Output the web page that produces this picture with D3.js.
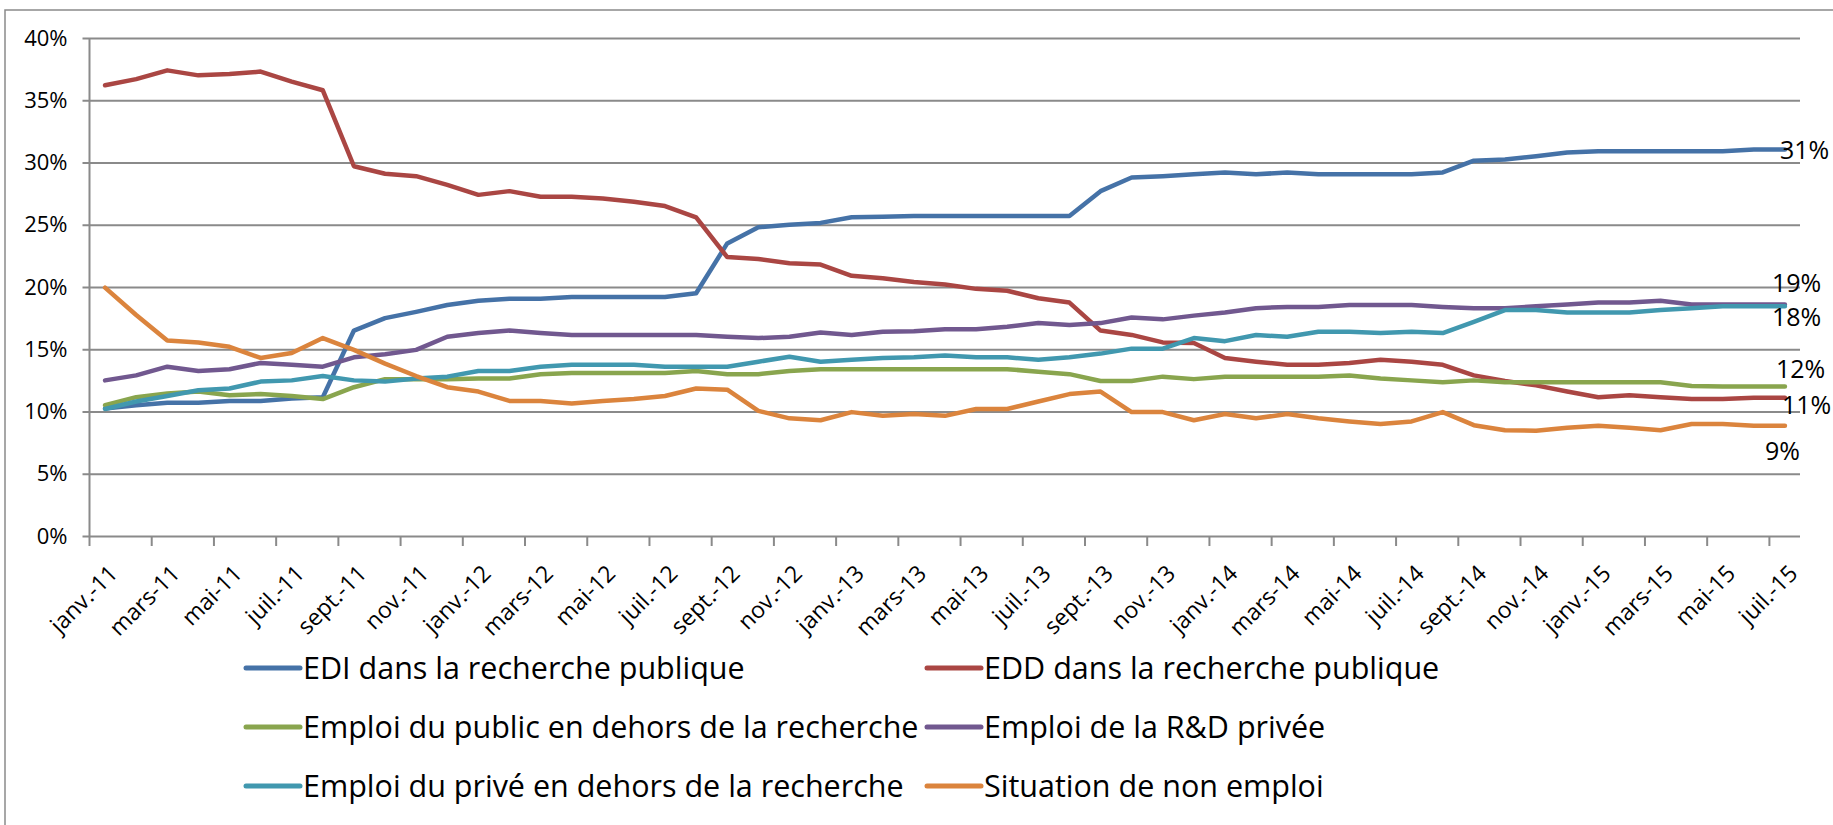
<!DOCTYPE html>
<html>
<head>
<meta charset="utf-8">
<script src="https://cdn.jsdelivr.net/npm/d3@7"></script>
<style>
  body { margin: 0; background: #fff; }
  svg { display: block; font-family: "Open Sans", Lato, sans-serif; }
</style>
</head>
<body>
<svg id="chart" width="1833" height="825"></svg>
<script>
// situation des docteurs, janv. 2011 -> juil. 2015 (mensuel, en %)

var monthNames = ['janv.', 'févr.', 'mars', 'avr.', 'mai', 'juin', 'juil.', 'août', 'sept.', 'oct.', 'nov.', 'déc.'];
var years = ['11', '12', '13', '14', '15'];

var seriesNames = [
  'EDI dans la recherche publique',
  'EDD dans la recherche publique',
  'Emploi du public en dehors de la recherche',
  'Emploi de la R&D privée',
  'Emploi du privé en dehors de la recherche',
  'Situation de non emploi'
];

var ediPublic = [10.25, 10.5, 10.7, 10.7, 10.85, 10.85, 11.05, 11.15, 16.5, 17.5, 18.0, 18.55,
  18.9, 19.05, 19.05, 19.2, 19.2, 19.2, 19.2, 19.5, 23.5, 24.8, 25.0, 25.15,
  25.6, 25.65, 25.7, 25.7, 25.7, 25.7, 25.7, 25.7, 27.7, 28.8, 28.9, 29.05,
  29.2, 29.05, 29.2, 29.05, 29.05, 29.05, 29.05, 29.2, 30.15, 30.25, 30.5, 30.8,
  30.9, 30.9, 30.9, 30.9, 30.9, 31.05, 31.05];

var eddPublic = [36.2, 36.7, 37.4, 37.0, 37.1, 37.3, 36.5, 35.8, 29.7, 29.1, 28.9, 28.2,
  27.4, 27.7, 27.25, 27.25, 27.1, 26.85, 26.5, 25.6, 22.4, 22.25, 21.9, 21.8,
  20.9, 20.7, 20.4, 20.2, 19.85, 19.7, 19.1, 18.75, 16.5, 16.15, 15.55, 15.5,
  14.3, 14.0, 13.75, 13.75, 13.9, 14.15, 14.0, 13.75, 12.9, 12.45, 12.1, 11.6,
  11.15, 11.3, 11.15, 11.0, 11.0, 11.1, 11.1];

var publicHorsRecherche = [10.5, 11.15, 11.45, 11.6, 11.3, 11.4, 11.25, 11.0, 11.95, 12.6, 12.6, 12.6,
  12.65, 12.65, 13.0, 13.1, 13.1, 13.1, 13.1, 13.25, 13.0, 13.0, 13.25, 13.4,
  13.4, 13.4, 13.4, 13.4, 13.4, 13.4, 13.2, 13.0, 12.45, 12.45, 12.8, 12.6,
  12.8, 12.8, 12.8, 12.8, 12.9, 12.65, 12.5, 12.35, 12.5, 12.35, 12.35, 12.35,
  12.35, 12.35, 12.35, 12.05, 12.0, 12.0, 12.0];

var rdPrivee = [12.5, 12.9, 13.6, 13.25, 13.4, 13.9, 13.75, 13.6, 14.35, 14.6, 14.95, 16.0,
  16.3, 16.5, 16.3, 16.15, 16.15, 16.15, 16.15, 16.15, 16.0, 15.9, 16.0, 16.35,
  16.15, 16.4, 16.45, 16.6, 16.6, 16.8, 17.1, 16.95, 17.1, 17.55, 17.4, 17.7,
  17.95, 18.3, 18.4, 18.4, 18.55, 18.55, 18.55, 18.4, 18.3, 18.3, 18.45, 18.6,
  18.75, 18.75, 18.9, 18.6, 18.6, 18.6, 18.6];

var priveHorsRecherche = [10.2, 10.8, 11.25, 11.7, 11.85, 12.4, 12.5, 12.85, 12.5, 12.4, 12.65, 12.8,
  13.25, 13.25, 13.6, 13.75, 13.75, 13.75, 13.6, 13.6, 13.6, 14.0, 14.4, 14.0,
  14.15, 14.3, 14.35, 14.5, 14.35, 14.35, 14.15, 14.35, 14.65, 15.05, 15.05, 15.9,
  15.65, 16.15, 16.0, 16.4, 16.4, 16.3, 16.4, 16.3, 17.2, 18.15, 18.15, 17.95,
  17.95, 17.95, 18.15, 18.3, 18.45, 18.45, 18.45];

var nonEmploi = [19.95, 17.75, 15.7, 15.55, 15.2, 14.3, 14.7, 15.9, 14.95, 13.85, 12.85, 11.95,
  11.6, 10.85, 10.85, 10.65, 10.85, 11.0, 11.25, 11.85, 11.75, 10.05, 9.45, 9.3,
  9.95, 9.65, 9.8, 9.65, 10.2, 10.2, 10.8, 11.4, 11.6, 9.95, 9.95, 9.3,
  9.8, 9.45, 9.8, 9.45, 9.2, 9.0, 9.2, 9.95, 8.9, 8.5, 8.45, 8.7,
  8.85, 8.7, 8.5, 9.0, 9.0, 8.85, 8.85];

var yTicks = [0, 5, 10, 15, 20, 25, 30, 35, 40];

// mois janv.-11 ... juil.-15
var months = [];
years.forEach(function(y) {
  monthNames.forEach(function(m) {
    if (months.length < 55) months.push(m + '-' + y);
  });
});

var colors = ['#4572A7', '#AA4643', '#89A54E', '#71588F', '#4198AF', '#DB843D'];
var allSeries = [ediPublic, eddPublic, publicHorsRecherche, rdPrivee, priveHorsRecherche, nonEmploi];

// placement des étiquettes de fin (décalage par rapport au dernier point)
var endLabelOffset = [[-5, 1], [-3, 7], [-9, -17], [-13, -21], [-13, 11], [-20, 25]];

var svg = d3.select('#chart');
var gridColor = '#8a8a8a';

// cadre
svg.append('rect')
  .attr('x', 5).attr('y', 10)
  .attr('width', 1850).attr('height', 840)
  .attr('fill', 'none')
  .attr('stroke', gridColor)
  .attr('stroke-width', 1.5);

var x = d3.scaleBand()
  .domain(months)
  .range([89.5, 1800.5])
  .padding(0);

var y = d3.scaleLinear()
  .domain([0, 40])
  .range([536, 38]);

function cx(d) { return x(d) + x.bandwidth() / 2; }

// quadrillage + graduations de l'axe Y
var yAxis = d3.axisLeft(y)
  .tickValues(yTicks)
  .tickSize(-(1800 - 89.5))
  .tickSizeOuter(0)
  .tickPadding(22)
  .tickFormat(function(d) { return d + '%'; });

var gy = svg.append('g')
  .attr('transform', 'translate(89.5,0)')
  .call(yAxis);
gy.select('.domain').remove();
gy.selectAll('.tick line')
  .attr('x1', -7)
  .attr('stroke', gridColor)
  .attr('stroke-width', 2);
gy.selectAll('.tick text')
  .attr('fill', '#000')
  .attr('font-size', 22)
  .attr('font-family', '"Open Sans", sans-serif');

// axe vertical
svg.append('line')
  .attr('x1', 89.5).attr('x2', 89.5)
  .attr('y1', y(40)).attr('y2', y(0))
  .attr('stroke', gridColor)
  .attr('stroke-width', 2);

// axe X : graduations tous les deux mois, entre les catégories
var xTickMonths = months.filter(function(d, i) { return i % 2 === 0; });

svg.append('g').selectAll('line')
  .data(xTickMonths)
  .join('line')
  .attr('x1', function(d) { return x(d); })
  .attr('x2', function(d) { return x(d); })
  .attr('y1', y(0))
  .attr('y2', y(0) + 10)
  .attr('stroke', gridColor)
  .attr('stroke-width', 2);

svg.append('g').selectAll('text')
  .data(xTickMonths)
  .join('text')
  .attr('transform', function(d) { return 'translate(' + (cx(d) + 14) + ',' + (y(0) + 39) + ') rotate(-45)'; })
  .attr('text-anchor', 'end')
  .attr('font-size', 23)
  .attr('fill', '#000')
  .text(function(d) { return d; });

// courbes
var line = d3.line()
  .x(function(d, i) { return cx(months[i]); })
  .y(function(d) { return y(d); });

allSeries.forEach(function(values, k) {
  svg.append('path')
    .datum(values)
    .attr('d', line)
    .attr('fill', 'none')
    .attr('stroke', colors[k])
    .attr('stroke-width', 4.5)
    .attr('stroke-linejoin', 'round')
    .attr('stroke-linecap', 'round');
});

// étiquettes de fin
var last = months[months.length - 1];
allSeries.forEach(function(values, k) {
  var v = values[values.length - 1];
  svg.append('text')
    .attr('x', cx(last) + endLabelOffset[k][0])
    .attr('y', y(v) + endLabelOffset[k][1])
    .attr('dy', '0.35em')
    .attr('font-size', 25)
    .attr('fill', '#000')
    .text(Math.round(v) + '%');
});

// légende
var legendCols = [246, 927];
var legendRows = [668, 727, 786];

var legend = svg.append('g').selectAll('g')
  .data(seriesNames)
  .join('g')
  .attr('transform', function(d, i) {
    return 'translate(' + legendCols[i % 2] + ',' + legendRows[Math.floor(i / 2)] + ')';
  });

legend.append('line')
  .attr('x1', 0).attr('x2', 54)
  .attr('stroke', function(d, i) { return colors[i]; })
  .attr('stroke-width', 5)
  .attr('stroke-linecap', 'round');

legend.append('text')
  .attr('x', 57)
  .attr('dy', '0.35em')
  .attr('font-size', 30.5)
  .attr('fill', '#000')
  .text(function(d) { return d; });
</script>
</body>
</html>
